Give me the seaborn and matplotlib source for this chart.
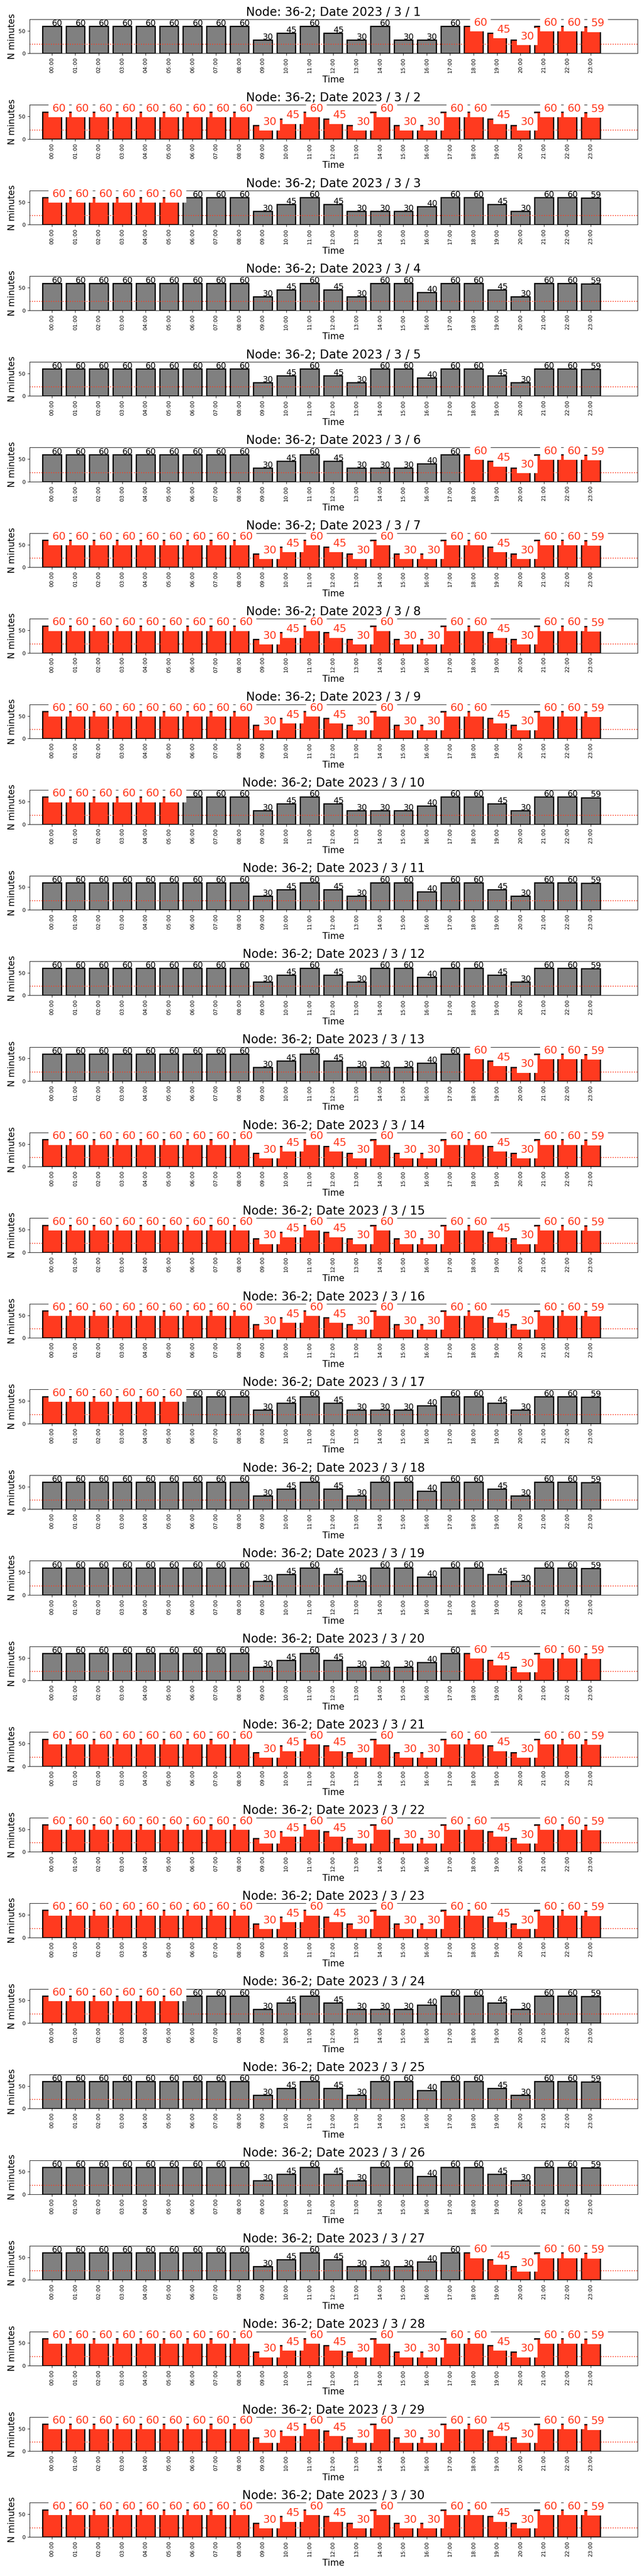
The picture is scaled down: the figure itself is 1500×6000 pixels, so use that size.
import matplotlib
matplotlib.use("Agg")
import matplotlib.pyplot as plt
import seaborn as sns
import pandas as pd

# hours on the x axis
hours = ['00:00', '01:00', '02:00', '03:00', '04:00', '05:00', '06:00', '07:00',
         '08:00', '09:00', '10:00', '11:00', '12:00', '13:00', '14:00', '15:00',
         '16:00', '17:00', '18:00', '19:00', '20:00', '21:00', '22:00', '23:00']

# minutes per hour, three daily profiles seen in the chart
profile_a = [60, 60, 60, 60, 60, 60, 60, 60, 60, 30, 45, 60,
             45, 30, 60, 30, 30, 60, 60, 45, 30, 60, 60, 59]
profile_b = [60, 60, 60, 60, 60, 60, 60, 60, 60, 30, 45, 60,
             45, 30, 30, 30, 40, 60, 60, 45, 30, 60, 60, 59]
profile_c = [60, 60, 60, 60, 60, 60, 60, 60, 60, 30, 45, 60,
             45, 30, 60, 60, 40, 60, 60, 45, 30, 60, 60, 59]

days = list(range(1, 31))
day_profile = ['a', 'a', 'b', 'c', 'c', 'b', 'a', 'a', 'a', 'b',
               'c', 'c', 'b', 'a', 'a', 'a', 'b', 'c', 'c', 'b',
               'a', 'a', 'a', 'b', 'c', 'c', 'b', 'a', 'a', 'a']
# which hours are flagged (red) on each day
day_flag = ['evening', 'all', 'night', 'none', 'none', 'evening', 'all', 'all', 'all', 'night',
            'none', 'none', 'evening', 'all', 'all', 'all', 'night', 'none', 'none', 'evening',
            'all', 'all', 'all', 'night', 'none', 'none', 'evening', 'all', 'all', 'all']

profiles = {'a': profile_a, 'b': profile_b, 'c': profile_c}
flag_hours = {
    'none': [],
    'night': ['00:00', '01:00', '02:00', '03:00', '04:00', '05:00'],
    'evening': ['18:00', '19:00', '20:00', '21:00', '22:00', '23:00'],
    'all': hours,
}

threshold = 20
RED = '#ff3a1f'
GRAY = 'gray'

fig, axes = plt.subplots(30, 1, figsize=(15, 60), dpi=100)
plt.subplots_adjust(left=0.046, right=0.99, top=0.9925, bottom=0.0152, hspace=1.513)

for ax, day, prof, flag in zip(axes, days, day_profile, day_flag):
    vals = profiles[prof]
    df = pd.DataFrame({'Time': hours, 'minutes': vals})
    red = [h in flag_hours[flag] for h in hours]
    colors = [RED if r else GRAY for r in red]

    sns.barplot(data=df, x='Time', y='minutes', hue='Time', palette=colors,
                legend=False, edgecolor='black', linewidth=2, saturation=1, ax=ax)
    ax.axhline(threshold, color=RED, linestyle=':', linewidth=1.5)

    for i, (v, r) in enumerate(zip(vals, red)):
        if r:
            ax.text(i, v + 1, str(v), color=RED, fontsize=18,
                    bbox=dict(facecolor='white', edgecolor='none', pad=6))
        else:
            ax.text(i, v + 1, str(v), color='black', fontsize=14)

    ax.set_xlim(-0.95, 25)
    ax.set_ylim(0, 75.5)
    ax.set_yticks([0, 50])
    ax.tick_params(axis='y', labelsize=9)
    ax.tick_params(axis='x', labelsize=9, labelrotation=90)
    ax.set_title(f'Node: 36-2; Date 2023 / 3 / {day}', fontsize=20)
    ax.set_xlabel('Time', fontsize=15)
    ax.set_ylabel('N minutes', fontsize=15)

plt.savefig('out.png', dpi=100)
